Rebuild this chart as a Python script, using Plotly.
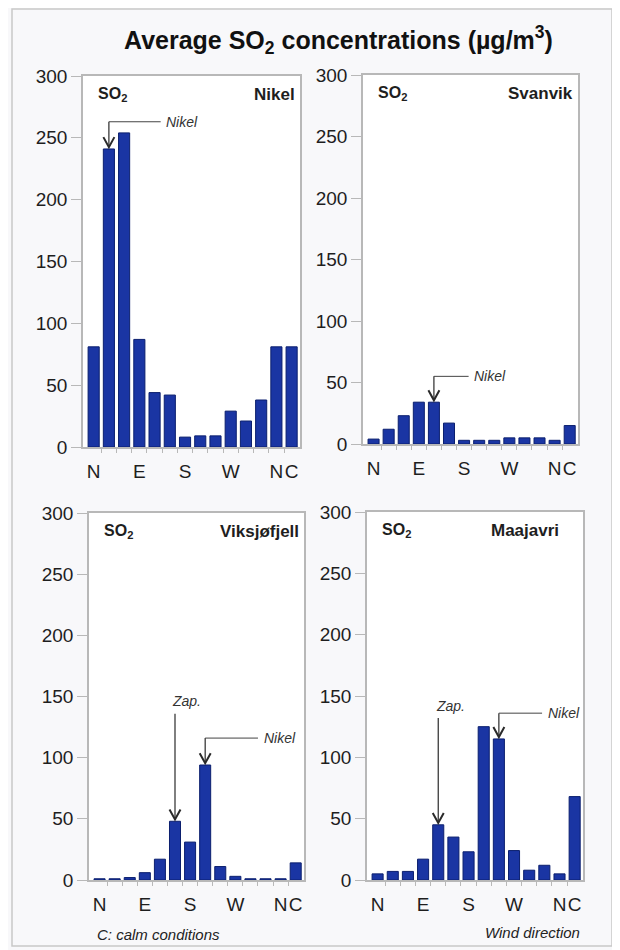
"""
Average SO2 concentrations by wind direction at four stations
"""
import plotly.graph_objects as go
from plotly.subplots import make_subplots

# 12 wind sectors, N repeated at the end, then calm conditions
positions = list(range(14))
tick_vals = [0, 3, 6, 9, 12, 13]
tick_text = ["N", "E", "S", "W", "N", "C"]

stations = ["Nikel", "Svanvik", "Viksjøfjell", "Maajavri"]
nikel = [81, 241, 254, 87, 44, 42, 8, 9, 9, 29, 21, 38, 81, 81]
svanvik = [4, 12, 23, 34, 34, 17, 3, 3, 3, 5, 5, 5, 3, 15]
viksjofjell = [1, 1, 2, 6, 17, 48, 31, 94, 11, 3, 1, 1, 1, 14]
maajavri = [5, 7, 7, 17, 45, 35, 23, 125, 115, 24, 8, 12, 5, 68]
series = [nikel, svanvik, viksjofjell, maajavri]

# (panel, bar index, label, line level, end of leader line)
pointers = [
    (0, 1, "Nikel", 263, 4.4),
    (1, 4, "Nikel", 55, 6.3),
    (2, 5, "Zap.", 136, None),
    (2, 7, "Nikel", 116, 10.5),
    (3, 4, "Zap.", 132, None),
    (3, 8, "Nikel", 136, 10.85),
]

BAR = "#1a35a3"
EDGE = "#0b1f6e"
GRID = "#b8b8b8"
INK = "#1e1e1e"
FONT = "Liberation Sans, Arial"
W, H = 620, 950
PAGE = 8  # the page body margin pushes the figure by this much


def fx(p):
    return (p - PAGE) / W


def fy(p):
    return 1 - (p - PAGE) / H


# plot areas in screen pixels: left, right, top, bottom
boxes = [(83, 300, 76, 447), (363, 578, 75, 444),
         (89, 304, 513, 880), (367, 583, 512, 880)]

fig = make_subplots(rows=2, cols=2)

for i, (name, vals) in enumerate(zip(stations, series)):
    r, c = i // 2 + 1, i % 2 + 1
    fig.add_trace(
        go.Bar(x=positions, y=vals, marker_color=BAR,
               marker_line=dict(color=EDGE, width=1), name=name),
        row=r, col=c
    )
    l, rt, t, b = boxes[i]
    fig.update_xaxes(
        domain=[fx(l), fx(rt)], range=[-0.7, 13.55], automargin=False,
        tickmode="array", tickvals=tick_vals, ticktext=tick_text,
        tickangle=0,
        ticks="outside", ticklen=6, tickcolor="rgba(0,0,0,0)",
        minor=dict(tickmode="array", tickvals=[p + 0.5 for p in positions[:-1]],
                   ticks="outside", ticklen=4, tickcolor=GRID),
        showline=True, mirror=True, linecolor=GRID, linewidth=1.5,
        showgrid=False, zeroline=False, fixedrange=True,
        tickfont=dict(family=FONT, size=19, color=INK),
        row=r, col=c
    )
    fig.update_yaxes(
        domain=[fy(b), fy(t)], range=[0, 300], dtick=50,
        automargin=False,
        ticks="outside", ticklen=10, tickcolor=GRID,
        showline=True, mirror=True, linecolor=GRID, linewidth=1.5,
        showgrid=False, zeroline=False,
        tickfont=dict(family=FONT, size=19, color=INK),
        row=r, col=c
    )
    ax = "" if i == 0 else str(i + 1)
    fig.add_annotation(
        text="<b>SO<sub>2</sub></b>", x=0.06, y=0.95,
        xref=f"x{ax} domain", yref=f"y{ax} domain",
        xanchor="left", yanchor="middle", showarrow=False,
        font=dict(family=FONT, size=16, color=INK)
    )
    fig.add_annotation(
        text=f"<b>{name}</b>", x=0.9 if i == 3 else 0.985, y=0.95,
        xref=f"x{ax} domain", yref=f"y{ax} domain",
        xanchor="right", yanchor="middle", showarrow=False,
        font=dict(family=FONT, size=17, color=INK)
    )

for panel, idx, label, level, end in pointers:
    ax = "" if panel == 0 else str(panel + 1)
    tip = series[panel][idx] + 1.5
    # vertical stem down to the bar top
    fig.add_shape(
        type="line", x0=idx, x1=idx, y0=level, y1=tip,
        xref=f"x{ax}", yref=f"y{ax}", line=dict(color="#2a2a2a", width=1.2)
    )
    # open V arrow head, sized in pixels
    fig.add_shape(
        type="path", path="M-5.5,10 L0,0 L5.5,10",
        xsizemode="pixel", ysizemode="pixel", xanchor=idx, yanchor=tip,
        xref=f"x{ax}", yref=f"y{ax}", line=dict(color="#2a2a2a", width=2)
    )
    if end is None:
        fig.add_annotation(
            text=f"<i>{label}</i>", x=idx - 0.3, y=level + 2,
            xref=f"x{ax}", yref=f"y{ax}", xanchor="left", yanchor="bottom",
            showarrow=False, font=dict(family=FONT, size=14, color="#333")
        )
    else:
        fig.add_shape(
            type="line", x0=idx, x1=end, y0=level, y1=level,
            xref=f"x{ax}", yref=f"y{ax}", line=dict(color="#444", width=1)
        )
        fig.add_annotation(
            text=f"<i>{label}</i>", x=end + 0.25, y=level,
            xref=f"x{ax}", yref=f"y{ax}", xanchor="left", yanchor="middle",
            showarrow=False, font=dict(family=FONT, size=14, color="#333")
        )

fig.add_annotation(
    text="<b>Average SO<sub>2</sub> concentrations (µg/m<sup>3</sup>)</b>",
    x=fx(338), y=fy(40), xref="paper", yref="paper",
    xanchor="center", yanchor="middle", showarrow=False,
    font=dict(family=FONT, size=25, color="#111")
)
fig.add_annotation(
    text="<i>C: calm conditions</i>", x=fx(95), y=fy(934),
    xref="paper", yref="paper", xanchor="left", yanchor="middle",
    showarrow=False, font=dict(family=FONT, size=15, color="#222")
)
fig.add_annotation(
    text="<i>Wind direction</i>", x=fx(582), y=fy(932),
    xref="paper", yref="paper", xanchor="right", yanchor="middle",
    showarrow=False, font=dict(family=FONT, size=15, color="#222")
)

# outer frame
fig.add_shape(
    type="rect", x0=fx(12), x1=fx(612), y0=fy(946), y1=fy(9),
    xref="paper", yref="paper", line=dict(color="#c8c8c8", width=1.5)
)

fig.update_layout(
    width=W,
    height=H,
    margin=dict(l=0, r=0, t=0, b=0, autoexpand=False),
    showlegend=False,
    bargap=0.27,
    plot_bgcolor="white",
    paper_bgcolor="#f8f8fa"
)

fig.write_html("out.html")
